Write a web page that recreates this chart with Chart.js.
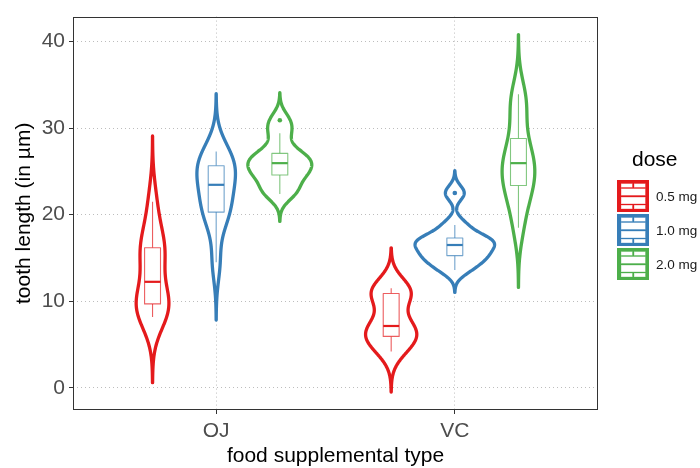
<!DOCTYPE html>
<html>
<head>
<meta charset="utf-8">
<script src="https://cdn.jsdelivr.net/npm/chart.js@4.4.1/dist/chart.umd.min.js"></script>
<style>
  html, body { margin: 0; padding: 0; background: #fff; }
</style>
</head>
<body>
<canvas id="grafico" width="700" height="468"></canvas>
<script>
// datos: largo del diente por suplemento y dosis (10 cobayos cada grupo)
const categorias = ['OJ', 'VC'];
const dosis = ['0.5 mg', '1.0 mg', '2.0 mg'];
const colores = ['#E41A1C', '#377EB8', '#4DAF4A'];

const ojDosis05 = [15.2, 21.5, 17.6, 9.7, 14.5, 10.0, 8.2, 9.4, 16.5, 9.7];
const ojDosis10 = [19.7, 23.3, 23.6, 26.4, 20.0, 25.2, 25.8, 21.2, 14.5, 27.3];
const ojDosis20 = [25.5, 26.4, 22.4, 24.5, 24.8, 30.9, 26.4, 27.3, 29.4, 23.0];
const vcDosis05 = [4.2, 11.5, 7.3, 5.8, 6.4, 10.0, 11.2, 11.2, 5.2, 7.0];
const vcDosis10 = [16.5, 16.5, 15.2, 17.3, 22.5, 17.3, 13.6, 14.5, 18.8, 15.5];
const vcDosis20 = [23.6, 18.5, 33.9, 25.5, 26.4, 32.5, 26.7, 21.5, 23.3, 29.5];

const ticksY = [0, 10, 20, 30, 40];
const ticksX = [1, 2];

const fuente = '"Liberation Sans", Arial, sans-serif';

const grupos = [
  { cat: 0, dosis: 0, valores: ojDosis05 },
  { cat: 0, dosis: 1, valores: ojDosis10 },
  { cat: 0, dosis: 2, valores: ojDosis20 },
  { cat: 1, dosis: 0, valores: vcDosis05 },
  { cat: 1, dosis: 1, valores: vcDosis10 },
  { cat: 1, dosis: 2, valores: vcDosis20 }
];

const anchoDodge = 0.8 / 3;
const mediaViolin = 1 / 6;
const mediaCaja = 0.2 / 6;

function cuantil(ord, p) {
  const h = (ord.length - 1) * p;
  const i = Math.floor(h);
  return i + 1 < ord.length ? ord[i] + (h - i) * (ord[i + 1] - ord[i]) : ord[i];
}

function desvio(v) {
  const m = v.reduce((a, b) => a + b, 0) / v.length;
  return Math.sqrt(v.reduce((a, b) => a + (b - m) ** 2, 0) / (v.length - 1));
}

// ancho de banda como bw.nrd0 de R
function anchoBanda(ord) {
  const iqr = cuantil(ord, 0.75) - cuantil(ord, 0.25);
  const lo = Math.min(desvio(ord), iqr / 1.34);
  return 0.9 * lo * Math.pow(ord.length, -0.2);
}

function densidad(ord, bw) {
  const desde = ord[0] - 3 * bw;
  const hasta = ord[ord.length - 1] + 3 * bw;
  const ys = [], ds = [];
  for (let i = 0; i < 512; i++) {
    const y = desde + (hasta - desde) * i / 511;
    let s = 0;
    ord.forEach(v => { const z = (y - v) / bw; s += Math.exp(-0.5 * z * z); });
    ys.push(y);
    ds.push(s / (ord.length * bw * Math.sqrt(2 * Math.PI)));
  }
  return { ys, ds };
}

grupos.forEach(g => {
  const ord = [...g.valores].sort((a, b) => a - b);
  g.x = g.cat + 1 + (g.dosis - 1) * anchoDodge;
  g.q1 = cuantil(ord, 0.25);
  g.med = cuantil(ord, 0.5);
  g.q3 = cuantil(ord, 0.75);
  const iqr = g.q3 - g.q1;
  const dentro = ord.filter(v => v >= g.q1 - 1.5 * iqr && v <= g.q3 + 1.5 * iqr);
  g.bigoteBajo = dentro[0];
  g.bigoteAlto = dentro[dentro.length - 1];
  g.atipicos = ord.filter(v => v < g.q1 - 1.5 * iqr || v > g.q3 + 1.5 * iqr);
  g.dens = densidad(ord, anchoBanda(ord));
});
const densMax = Math.max(...grupos.map(g => Math.max(...g.dens.ds)));

function conAlfa(hex, a) {
  const n = parseInt(hex.slice(1), 16);
  return `rgba(${n >> 16}, ${(n >> 8) & 255}, ${n & 255}, ${a})`;
}

const violines = {
  id: 'violines',
  beforeDatasetsDraw(chart) {
    const { ctx, scales: { x, y } } = chart;
    ctx.save();
    grupos.forEach(g => {
      const { ys, ds } = g.dens;
      ctx.beginPath();
      for (let i = 0; i < ys.length; i++) {
        const px = x.getPixelForValue(g.x + ds[i] / densMax * mediaViolin);
        const py = y.getPixelForValue(ys[i]);
        i === 0 ? ctx.moveTo(px, py) : ctx.lineTo(px, py);
      }
      for (let i = ys.length - 1; i >= 0; i--) {
        ctx.lineTo(x.getPixelForValue(g.x - ds[i] / densMax * mediaViolin), y.getPixelForValue(ys[i]));
      }
      ctx.closePath();
      ctx.fillStyle = '#fff';
      ctx.fill();
      ctx.lineWidth = 3.3;
      ctx.lineJoin = 'round';
      ctx.strokeStyle = colores[g.dosis];
      ctx.stroke();
    });
    grupos.forEach(g => {
      const c = colores[g.dosis];
      const xc = x.getPixelForValue(g.x);
      const x0 = x.getPixelForValue(g.x - mediaCaja);
      const x1 = x.getPixelForValue(g.x + mediaCaja);
      const yq1 = y.getPixelForValue(g.q1), yq3 = y.getPixelForValue(g.q3);
      ctx.strokeStyle = conAlfa(c, 0.7);
      ctx.lineWidth = 1.1;
      ctx.beginPath();
      ctx.moveTo(xc, y.getPixelForValue(g.bigoteAlto)); ctx.lineTo(xc, yq3);
      ctx.moveTo(xc, yq1); ctx.lineTo(xc, y.getPixelForValue(g.bigoteBajo));
      ctx.stroke();
      ctx.fillStyle = '#fff';
      ctx.fillRect(x0, yq3, x1 - x0, yq1 - yq3);
      ctx.strokeRect(x0, yq3, x1 - x0, yq1 - yq3);
      ctx.strokeStyle = c;
      ctx.lineWidth = 2.2;
      ctx.beginPath();
      ctx.moveTo(x0, y.getPixelForValue(g.med)); ctx.lineTo(x1, y.getPixelForValue(g.med));
      ctx.stroke();
    });
    ctx.restore();
  },
  afterDraw(chart) {
    const { ctx, chartArea: a } = chart;
    ctx.save();
    ctx.strokeStyle = '#333';
    ctx.lineWidth = 1;
    ctx.strokeRect(Math.round(a.left) + 0.5, Math.round(a.top) + 0.5, Math.round(a.right - a.left) - 1, Math.round(a.bottom - a.top) - 1);

    // leyenda
    ctx.fillStyle = '#000';
    ctx.font = '21px ' + fuente;
    ctx.textBaseline = 'alphabetic';
    ctx.textAlign = 'left';
    ctx.fillText('dose', 632, 166);
    dosis.forEach((d, i) => {
      const kx = 617, ky = 180 + i * 34;
      ctx.fillStyle = colores[i];
      ctx.fillRect(kx, ky, 32, 32);
      ctx.fillStyle = '#fff';
      ctx.strokeStyle = conAlfa(colores[i], 0.35);
      ctx.lineWidth = 1;
      [[4, 3.5, 11.5, 4], [17, 3.5, 11.5, 4], [4, 8.5, 24.5, 7], [4, 17, 24.5, 7], [4, 25, 11.5, 4], [17, 25, 11.5, 4]]
        .forEach(r => {
          ctx.fillRect(kx + r[0], ky + r[1], r[2], r[3]);
          ctx.strokeRect(kx + r[0], ky + r[1], r[2], r[3]);
        });
      ctx.fillStyle = '#1a1a1a';
      ctx.font = '13.5px ' + fuente;
      ctx.textBaseline = 'middle';
      ctx.fillText(d, 656, ky + 17);
    });
    ctx.restore();
  }
};

const ctx = document.getElementById('grafico').getContext('2d');
const grafico = new Chart(ctx, {
  type: 'scatter',
  data: {
    datasets: dosis.map((d, i) => ({
      label: d,
      data: grupos.filter(g => g.dosis === i).flatMap(g => g.atipicos.map(v => ({ x: g.x, y: v }))),
      pointRadius: 2.3,
      pointBackgroundColor: colores[i],
      pointBorderWidth: 0
    }))
  },
  options: {
    responsive: false,
    animation: false,
    devicePixelRatio: 1,
    layout: { padding: { top: 15, right: 102, left: 0, bottom: 0 } },
    plugins: { legend: { display: false }, tooltip: { enabled: false } },
    scales: {
      x: {
        type: 'linear',
        min: 0.4,
        max: 2.6,
        afterBuildTicks: s => { s.ticks = ticksX.map(v => ({ value: v })); },
        afterFit: s => { s.height = 58; },
        ticks: {
          callback: (v, i) => categorias[i],
          color: '#4D4D4D',
          font: { family: fuente, size: 21 },
          padding: 5,
          maxRotation: 0
        },
        grid: { color: '#BDBDBD', lineWidth: 1, tickLength: 4, tickColor: '#333', tickBorderDash: [] },
        border: { display: false, dash: [1, 3] },
        title: { display: true, text: 'food supplemental type', color: '#000', font: { family: fuente, size: 21, lineHeight: 1 }, padding: { top: 0, bottom: 1 } }
      },
      y: {
        min: -2.55,
        max: 42.87,
        afterBuildTicks: s => { s.ticks = ticksY.map(v => ({ value: v })); },
        afterFit: s => { s.width = 73; },
        ticks: {
          color: '#4D4D4D',
          font: { family: fuente, size: 21 },
          padding: 4
        },
        grid: { color: '#BDBDBD', lineWidth: 1, tickLength: 4, tickColor: '#333', tickBorderDash: [] },
        border: { display: false, dash: [1, 3] },
        title: { display: true, text: 'tooth length (in µm)', color: '#000', font: { family: fuente, size: 21 }, padding: { top: 12, bottom: 0 } }
      }
    }
  },
  plugins: [violines]
});
</script>
</body>
</html>
